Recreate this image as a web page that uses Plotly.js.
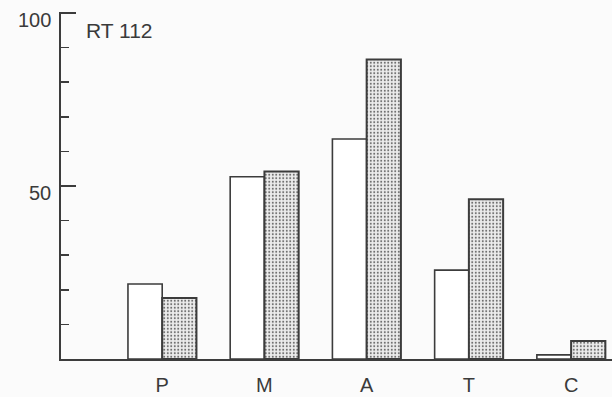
<!DOCTYPE html>
<html>
<head>
<meta charset="utf-8">
<script src="https://cdn.plot.ly/plotly-3.0.1.min.js"></script>
<style>html,body{margin:0;padding:0;background:#fbfbfb;}#chart{width:612px;height:397px;}</style>
</head>
<body>
<div id="chart"></div>
<script>
var categories = ['P', 'M', 'A', 'T', 'C'];
var whiteValues = [21.7, 52.7, 63.6, 25.7, 1.2];
var stippleValues = [17.6, 54.2, 86.6, 46.2, 5.2];
var yTickVals = [0, 50, 100];
var yTickText = ['', '50', '100'];
var panelLabel = 'RT 112';

var lineColor = '#3c3c3c';
var textColor = '#3a3a3a';
var font = 'Liberation Sans, Arial, Helvetica, sans-serif';

var traces = [
  {
    type: 'bar', x: categories, y: whiteValues, name: 'open',
    marker: {color: '#ffffff', line: {color: lineColor, width: 1.6}},
    hoverinfo: 'none'
  },
  {
    type: 'bar', x: categories, y: stippleValues, name: 'stippled',
    marker: {
      color: '#ffffff',
      line: {color: lineColor, width: 2},
      pattern: {shape: '.', fgcolor: '#6a6a6a', bgcolor: '#ececec', size: 3.5, solidity: 0.25}
    },
    hoverinfo: 'none'
  }
];

var annotations = [];
for (var i = 0; i < yTickVals.length; i++) {
  if (!yTickText[i]) continue;
  annotations.push({
    text: yTickText[i], xref: 'paper', yref: 'y',
    x: -8 / 551, y: yTickVals[i], xanchor: 'right', yanchor: 'top',
    yshift: 6, showarrow: false,
    font: {family: font, size: 20, color: textColor}
  });
}
annotations.push({
  text: panelLabel, xref: 'paper', yref: 'paper',
  x: 23 / 551, y: (359 - 30) / 347, xanchor: 'left', yanchor: 'middle',
  showarrow: false,
  font: {family: font, size: 21, color: textColor}
});

var layout = {
  width: 612, height: 397,
  margin: {l: 61, r: 0, t: 12, b: 38, pad: 0},
  paper_bgcolor: '#fbfbfb',
  plot_bgcolor: 'rgba(0,0,0,0)',
  showlegend: false,
  barmode: 'group',
  bargap: 0.33,
  bargroupgap: 0,
  font: {family: font, color: textColor, size: 19},
  xaxis: {
    type: 'category',
    range: [-0.99, 4.4],
    showline: true, linecolor: lineColor, linewidth: 1.8,
    showgrid: false, zeroline: false,
    ticks: '',
    ticklabelstandoff: 7,
    tickfont: {family: font, size: 20, color: textColor}
  },
  yaxis: {
    range: [0, 100.3],
    showline: true, linecolor: lineColor, linewidth: 1.8,
    showgrid: false, zeroline: false,
    tickmode: 'array', tickvals: yTickVals, ticktext: yTickText,
    showticklabels: false,
    ticks: 'inside', ticklen: 15, tickwidth: 1.8, tickcolor: lineColor,
    minor: {dtick: 10, ticks: 'inside', ticklen: 8, tickwidth: 1.6, tickcolor: lineColor, showgrid: false}
  },
  annotations: annotations
};

Plotly.newPlot('chart', traces, layout, {staticPlot: true, displayModeBar: false});
</script>
</body>
</html>
